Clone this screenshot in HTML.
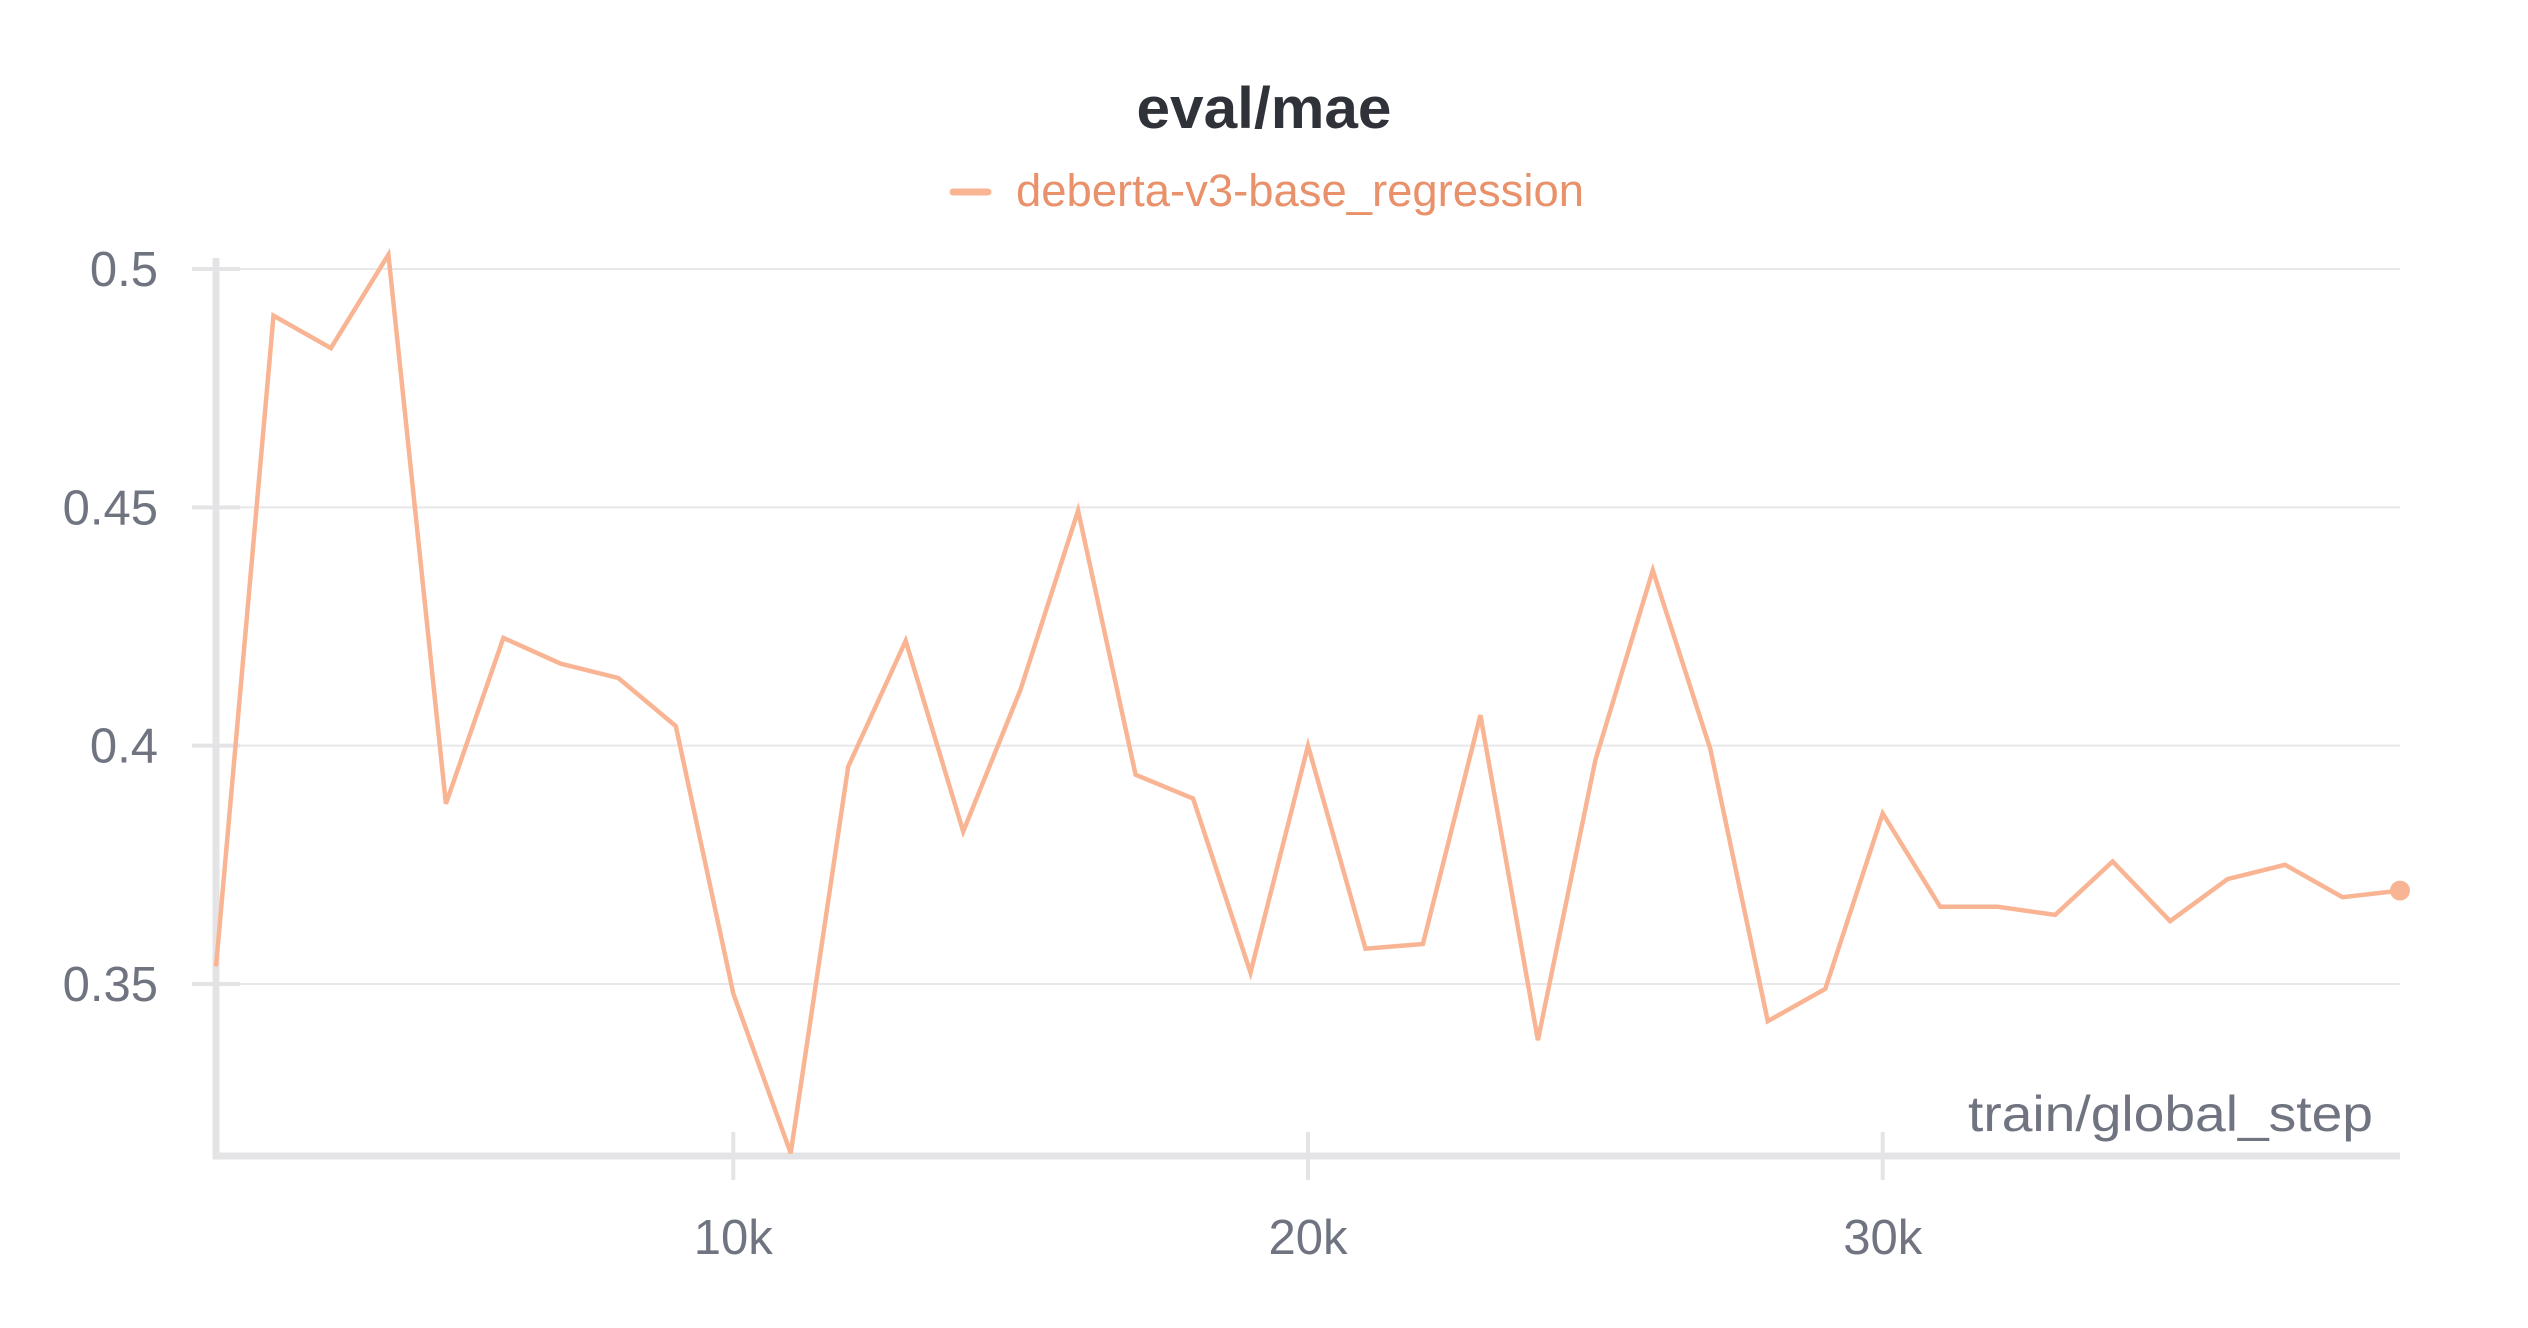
<!DOCTYPE html>
<html><head><meta charset="utf-8"><style>
html,body{margin:0;padding:0;background:#fff;}
svg{display:block;font-family:"Liberation Sans",sans-serif;}
</style></head><body>
<svg id="chart" width="2528" height="1328" viewBox="0 0 2528 1328">
<text x="1264" y="128" text-anchor="middle" font-size="58" font-weight="bold" fill="#2f3238" textLength="255" lengthAdjust="spacingAndGlyphs">eval/mae</text>
<g>
<line x1="953" y1="192" x2="988" y2="192" stroke="#f9b593" stroke-width="7" stroke-linecap="round"/>
<text x="1016" y="206" font-size="45" fill="#e8916a" textLength="568" lengthAdjust="spacingAndGlyphs">deberta-v3-base_regression</text>
</g>
<g id="grid"></g>
<g id="axes"></g>
<g id="series"></g>
<text x="2373" y="1131" text-anchor="end" font-size="50" fill="#6f7480" textLength="405" lengthAdjust="spacingAndGlyphs">train/global_step</text>
</svg>
<script>
const steps = [1000,2000,3000,4000,5000,6000,7000,8000,9000,10000,11000,12000,13000,14000,15000,16000,17000,18000,19000,20000,21000,22000,23000,24000,25000,26000,27000,28000,29000,30000,31000,32000,33000,34000,35000,36000,37000,38000,39000];
const maeValues = [0.3537,0.4902,0.4834,0.503,0.3878,0.4226,0.4172,0.4142,0.4041,0.348,0.3145,0.3956,0.422,0.382,0.4118,0.4493,0.3939,0.3889,0.3524,0.400,0.3574,0.3584,0.4064,0.3382,0.397,0.4368,0.3993,0.3422,0.349,0.3858,0.3662,0.3662,0.3645,0.3757,0.3632,0.372,0.375,0.3682,0.3696];
const yTicks = [0.35,0.4,0.45,0.5];
const yTickLabels = ["0.35","0.4","0.45","0.5"];
const xTicks = [10000,20000,30000];
const xTickLabels = ["10k","20k","30k"];

const NS="http://www.w3.org/2000/svg";
const X0=216,X1=2400,XMIN=1000,XMAX=39000;
const Y05=269,Y035=984;
function xs(v){return X0+(v-XMIN)/(XMAX-XMIN)*(X1-X0);}
function ys(v){return Y05+(0.5-v)/0.15*(Y035-Y05);}
const AXB=1156, AXT=258;
function mk(tag,attrs,parent){const e=document.createElementNS(NS,tag);for(const k in attrs)e.setAttribute(k,attrs[k]);parent.appendChild(e);return e;}
const grid=document.getElementById('grid'),axes=document.getElementById('axes'),series=document.getElementById('series');
yTicks.forEach((t,i)=>{
  const y=ys(t);
  const g=mk('line',{x1:X0-24,x2:X1,y1:y,y2:y,stroke:'#e8e8ea','stroke-width':2},grid);
  
  
  const tk=mk('line',{x1:X0-24,x2:X0+24,y1:y,y2:y,stroke:'#e4e4e6','stroke-width':4},grid);
  
  
  const tx=mk('text',{x:158,y:y+17,'text-anchor':'end','font-size':49,fill:'#6f7480'},axes);
  tx.textContent=yTickLabels[i];
  
  
});
xTicks.forEach((t,i)=>{
  const x=xs(t);
  const tk=mk('line',{x1:x,x2:x,y1:AXB-24,y2:AXB+24,stroke:'#e4e4e6','stroke-width':4},axes);
  
  
  const tx=mk('text',{x:x,y:1254,'text-anchor':'middle','font-size':49,fill:'#6f7480'},axes);
  tx.textContent=xTickLabels[i];
  
  
});
const ya=mk('line',{x1:X0,x2:X0,y1:AXT,y2:AXB+3,stroke:'#e4e4e6','stroke-width':7},axes);


const xa=mk('line',{x1:X0-3,x2:X1,y1:AXB,y2:AXB,stroke:'#e4e4e6','stroke-width':7},axes);


const pts=steps.map((s,i)=>xs(s).toFixed(1)+','+ys(maeValues[i]).toFixed(1)).join(' ');
const pl=mk('polyline',{points:pts,fill:'none',stroke:'#f9b593','stroke-width':4.5,'stroke-linejoin':'miter'},series);


const last=steps.length-1;
const dot=mk('circle',{cx:xs(steps[last]),cy:ys(maeValues[last]),r:10,fill:'#f9b593'},series);


</script>
</body></html>
